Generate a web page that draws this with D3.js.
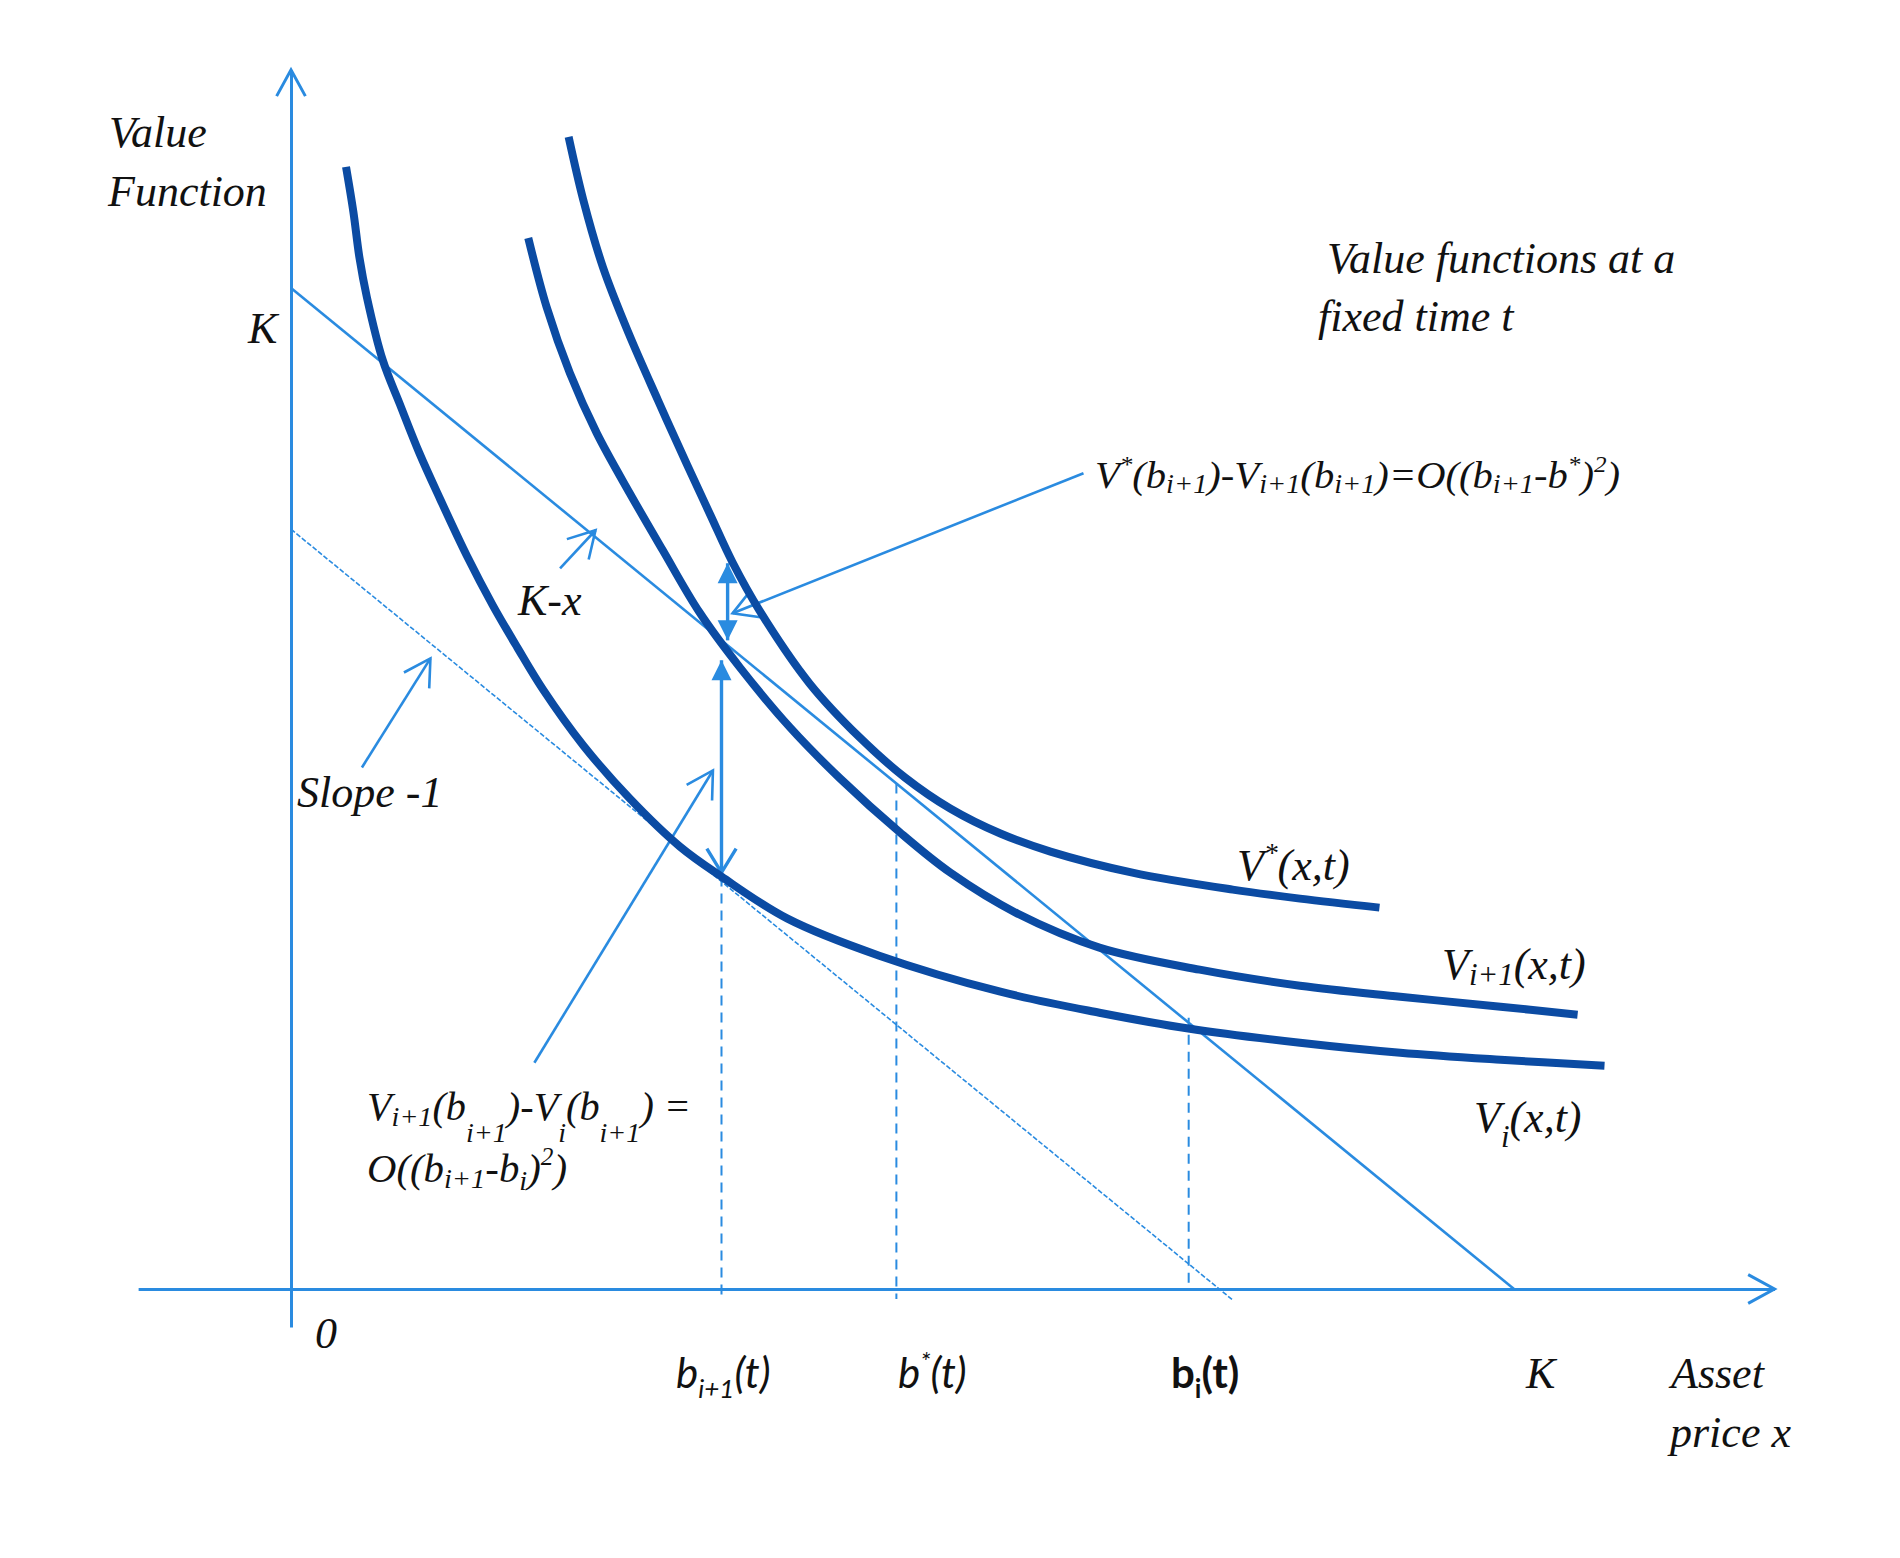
<!DOCTYPE html>
<html>
<head>
<meta charset="utf-8">
<script src="https://cdn.jsdelivr.net/npm/d3@7/dist/d3.min.js"></script>
<style>
  body { margin: 0; background: #fff; }
  svg text { font-family: "Liberation Serif", "Times New Roman", serif; font-style: italic; fill: #111; }
  svg text.sans { font-family: Lato, "Open Sans", sans-serif; }
</style>
</head>
<body>
<div id="chart"></div>
<script>
// value functions at a fixed time t (x and y in units of K)
var viX   = [0.045, 0.051, 0.056, 0.062, 0.075, 0.089, 0.105, 0.122, 0.144, 0.165, 0.185, 0.206, 0.239, 0.277, 0.318, 0.352, 0.406, 0.481, 0.580, 0.661, 0.735, 0.825, 0.907, 0.989, 1.074];
var viY   = [1.121, 1.076, 1.030, 0.991, 0.928, 0.884, 0.835, 0.789, 0.732, 0.683, 0.641, 0.599, 0.543, 0.490, 0.442, 0.412, 0.370, 0.333, 0.297, 0.276, 0.260, 0.246, 0.236, 0.229, 0.223];
var vi1X  = [0.194, 0.209, 0.228, 0.250, 0.277, 0.304, 0.334, 0.367, 0.408, 0.449, 0.498, 0.539, 0.594, 0.661, 0.743, 0.825, 0.907, 0.989, 1.052];
var vi1Y  = [1.050, 0.981, 0.915, 0.855, 0.795, 0.738, 0.676, 0.621, 0.561, 0.510, 0.456, 0.416, 0.375, 0.341, 0.319, 0.303, 0.292, 0.282, 0.274];
var vStarX = [0.227, 0.239, 0.255, 0.276, 0.300, 0.324, 0.343, 0.361, 0.383, 0.424, 0.465, 0.502, 0.539, 0.580, 0.621, 0.688, 0.770, 0.825, 0.890];
var vStarY = [1.151, 1.088, 1.021, 0.955, 0.888, 0.823, 0.773, 0.726, 0.678, 0.605, 0.551, 0.511, 0.480, 0.455, 0.437, 0.416, 0.399, 0.390, 0.381];

// payoff K-x and the parallel line of slope -1
var strike = 1;
var slopeLineIntercept = 0.759;
var slopeLineEnd = 0.770;

// exercise boundaries b_{i+1}, b*, b_i and where their dashed lines start
var boundaryX   = [0.352, 0.495, 0.734];
var boundaryTop = [0.412, 0.505, 0.271];
var boundaryBot = [-0.012, -0.010, 0.000];

// pointer arrows, tip at the second point
var pointerFrom = [[0.220, 0.720], [0.058, 0.521], [0.648, 0.815], [0.199, 0.226]];
var pointerTo   = [[0.249, 0.758], [0.114, 0.630], [0.361, 0.675], [0.345, 0.518]];

// double arrows: x, bottom, top, head at bottom, head at top
var gapX      = [0.357, 0.352];
var gapBottom = [0.648, 0.416];
var gapTop    = [0.725, 0.628];
var gapHeads  = [["filled", "filled"], ["open", "filled"]];

// tick labels on the price axis
var xTickLabels = [
  [["b"], ["i+1", "sub"], ["(t)"]],
  [["b"], ["*", "sup"], ["(t)"]],
  [["b"], ["i", "sub"], ["(t)"]],
  [["K"]]
];

var width = 1900, height = 1558;
var thin = "#2a8be0", thick = "#0b4ba3";

var x = d3.scaleLinear().domain([0, 1]).range([291, 1514]);
var y = d3.scaleLinear().domain([0, 1]).range([1289, 288]);

var svg = d3.select("#chart").append("svg")
  .attr("width", width)
  .attr("height", height);

svg.append("rect").attr("width", width).attr("height", height).attr("fill", "#fff");

// axes, drawn with d3 axes but without ticks
var xAxisScale = d3.scaleLinear().domain([-0.125, 1.213]).range([x(-0.125), x(1.213)]);
var yAxisScale = d3.scaleLinear().domain([-0.038, 1.218]).range([y(-0.038), y(1.218)]);

svg.append("g")
  .attr("transform", "translate(0," + y(0) + ")")
  .call(d3.axisBottom(xAxisScale).tickValues([]).tickSizeOuter(0))
  .select(".domain").attr("stroke", thin).attr("stroke-width", 3);

svg.append("g")
  .attr("transform", "translate(" + x(0) + ",0)")
  .call(d3.axisLeft(yAxisScale).tickValues([]).tickSizeOuter(0))
  .select(".domain").attr("stroke", thin).attr("stroke-width", 3);

// open arrow head: two barbs at the tip
function openHead(g, x0, y0, x1, y1, len, ang, w) {
  var a = Math.atan2(y0 - y1, x0 - x1);
  var p = d3.path();
  p.moveTo(x1 + len * Math.cos(a + ang), y1 + len * Math.sin(a + ang));
  p.lineTo(x1, y1);
  p.lineTo(x1 + len * Math.cos(a - ang), y1 + len * Math.sin(a - ang));
  g.append("path").attr("d", p.toString()).attr("fill", "none")
    .attr("stroke", thin).attr("stroke-width", w).attr("stroke-linejoin", "miter");
}

// filled triangle head
function filledHead(g, x0, y0, x1, y1, len, half) {
  var a = Math.atan2(y1 - y0, x1 - x0);
  var bx = x1 - len * Math.cos(a), by = y1 - len * Math.sin(a);
  var nx = -Math.sin(a) * half, ny = Math.cos(a) * half;
  g.append("path")
    .attr("d", "M" + x1 + "," + y1 + "L" + (bx + nx) + "," + (by + ny) + "L" + (bx - nx) + "," + (by - ny) + "Z")
    .attr("fill", thin);
}

var arrows = svg.append("g");
openHead(arrows, x(1.1), y(0), x(1.213), y(0), 30, 0.5, 3);
openHead(arrows, x(0), y(1.1), x(0), y(1.218), 30, 0.5, 3);

// slope -1 line (fine dashes) and payoff K-x
svg.append("line")
  .attr("x1", x(0)).attr("y1", y(slopeLineIntercept))
  .attr("x2", x(slopeLineEnd)).attr("y2", y(slopeLineIntercept - slopeLineEnd))
  .attr("stroke", thin).attr("stroke-width", 1.6).attr("stroke-dasharray", "5,2");

svg.append("line")
  .attr("x1", x(0)).attr("y1", y(strike))
  .attr("x2", x(strike)).attr("y2", y(0))
  .attr("stroke", thin).attr("stroke-width", 2.6);

// dashed verticals at the boundaries
svg.selectAll("line.bound")
  .data(boundaryX)
  .enter().append("line")
  .attr("class", "bound")
  .attr("x1", function(d) { return x(d); })
  .attr("x2", function(d) { return x(d); })
  .attr("y1", function(d, i) { return y(boundaryTop[i]); })
  .attr("y2", function(d, i) { return y(boundaryBot[i]); })
  .attr("stroke", thin).attr("stroke-width", 2).attr("stroke-dasharray", "10,7");

// the three value functions
var line = d3.line()
  .x(function(d) { return x(d[0]); })
  .y(function(d) { return y(d[1]); })
  .curve(d3.curveCatmullRom.alpha(0.5));

[[viX, viY], [vi1X, vi1Y], [vStarX, vStarY]].forEach(function(c) {
  svg.append("path")
    .datum(d3.zip(c[0], c[1]))
    .attr("d", line)
    .attr("fill", "none")
    .attr("stroke", thick)
    .attr("stroke-width", 8);
});

// pointer arrows
pointerFrom.forEach(function(f, i) {
  var t = pointerTo[i];
  arrows.append("line")
    .attr("x1", x(f[0])).attr("y1", y(f[1]))
    .attr("x2", x(t[0])).attr("y2", y(t[1]))
    .attr("stroke", thin).attr("stroke-width", 2.6);
  openHead(arrows, x(f[0]), y(f[1]), x(t[0]), y(t[1]), 30, 0.52, 2.6);
});

// double arrows between the curves
gapX.forEach(function(gx, i) {
  var px = x(gx), yb = y(gapBottom[i]), yt = y(gapTop[i]);
  arrows.append("line")
    .attr("x1", px).attr("y1", yb).attr("x2", px).attr("y2", yt)
    .attr("stroke", thin).attr("stroke-width", 3.4);
  if (gapHeads[i][0] === "filled") filledHead(arrows, px, yt, px, yb, 20, 10);
  else openHead(arrows, px, yt, px, yb, 28, 0.55, 3.4);
  if (gapHeads[i][1] === "filled") filledHead(arrows, px, yb, px, yt, 20, 10);
  else openHead(arrows, px, yb, px, yt, 28, 0.55, 3.4);
});

// text with sub and superscripts
function rich(px, py, parts, size, cls, fit) {
  var t = svg.append("text").attr("x", px).attr("y", py).style("font-size", size + "px");
  if (cls) t.attr("class", cls);
  var shift = 0;
  parts.forEach(function(p) {
    var kind = p[1] || "n";
    var target = kind === "sub" ? size * 0.24 : kind === "sup" ? -size * 0.40 : 0;
    if (p[2] != null) target = p[2] * size;
    t.append("tspan")
      .attr("dy", target - shift)
      .style("font-size", (kind === "n" ? size : size * (p[3] || 0.62)) + "px")
      .text(p[0]);
    shift = target;
  });
  if (fit) t.attr("textLength", fit).attr("lengthAdjust", "spacingAndGlyphs");
  return t;
}

rich(109, 147, [["Value"]], 44);
rich(108, 206, [["Function"]], 44);
rich(248, 343, [["K"]], 44);
rich(518, 615, [["K-x"]], 44);
rich(297, 807, [["Slope -1"]], 44);
rich(315, 1348, [["0"]], 44);
rich(1327, 273, [["Value functions at a"]], 44);
rich(1318, 331, [["fixed time t"]], 44);

rich(1095, 488, [["V"], ["*", "sup", -0.42], ["(b"], ["i+1", "sub", 0.14, 0.7], [")-V"], ["i+1", "sub", 0.14, 0.7],
  ["(b"], ["i+1", "sub", 0.14, 0.7], [")=O((b"], ["i+1", "sub", 0.14, 0.7], ["-b"], ["*", "sup", -0.42], [")"], ["2", "sup", -0.42], [")"]], 38, null, 525);

rich(367, 1120, [["V"], ["i+1", "sub", 0.14, 0.7], ["(b"], ["i+1", "sub", 0.55, 0.7], [")-V"], ["i", "sub", 0.55, 0.7],
  ["(b"], ["i+1", "sub", 0.55, 0.7], [") ="]], 40, null, 324);
rich(367, 1182, [["O((b"], ["i+1", "sub", 0.14, 0.7], ["-b"], ["i", "sub", 0.2, 0.7], [")"], ["2", "sup", -0.42], [")"]], 40, null, 200);

rich(1237, 880, [["V"], ["*", "sup", -0.42], ["(x,t)"]], 44);
rich(1442, 979, [["V"], ["i+1", "sub", 0.14, 0.7], ["(x,t)"]], 44);
rich(1474, 1132, [["V"], ["i", "sub", 0.35, 0.7], ["(x,t)"]], 44);

// price axis tick labels
var tickX = [676, 898, 1171, 1526];
xTickLabels.forEach(function(parts, i) {
  if (i === 3) { rich(tickX[i], 1388, parts, 44); return; }
  var t = rich(tickX[i], 1388, parts, 42, "sans");
  if (i === 2) t.style("font-style", "normal").style("font-weight", "bold");
});

rich(1671, 1388, [["Asset"]], 44);
rich(1670, 1447, [["price x"]], 44);
</script>
</body>
</html>
